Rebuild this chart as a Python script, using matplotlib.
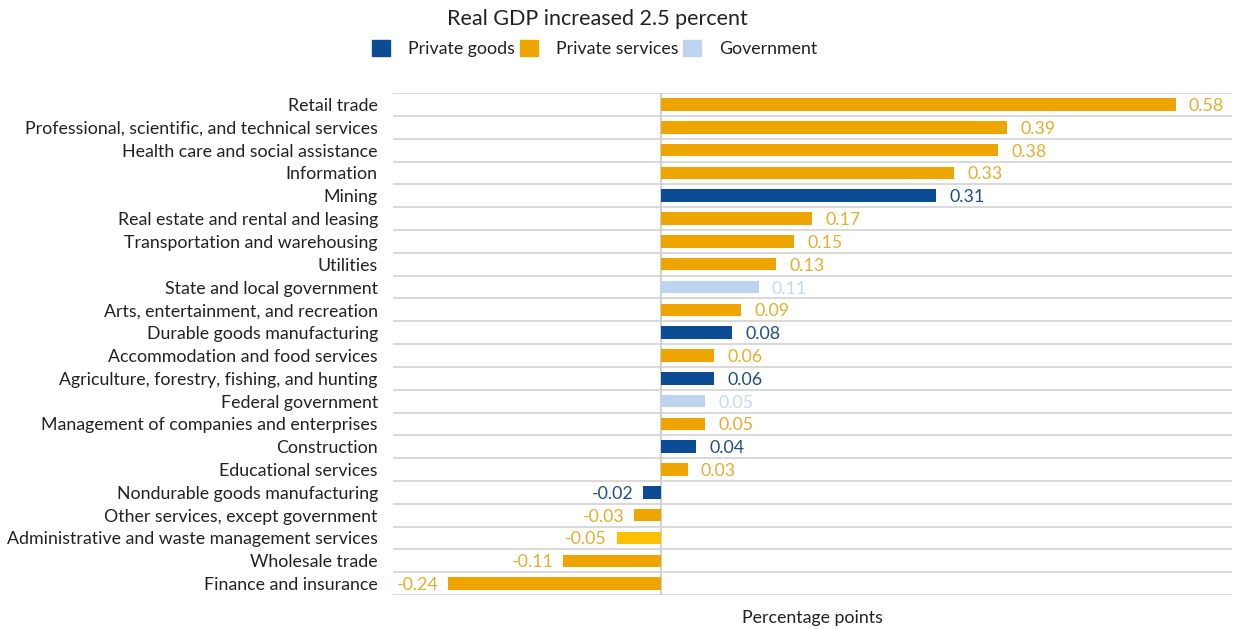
import matplotlib.pyplot as plt
from matplotlib.patches import Patch
import numpy as np

plt.rcParams['font.family'] = ['Lato', 'DejaVu Sans']

industries = [
    'Retail trade',
    'Professional, scientific, and technical services',
    'Health care and social assistance',
    'Information',
    'Mining',
    'Real estate and rental and leasing',
    'Transportation and warehousing',
    'Utilities',
    'State and local government',
    'Arts, entertainment, and recreation',
    'Durable goods manufacturing',
    'Accommodation and food services',
    'Agriculture, forestry, fishing, and hunting',
    'Federal government',
    'Management of companies and enterprises',
    'Construction',
    'Educational services',
    'Nondurable goods manufacturing',
    'Other services, except government',
    'Administrative and waste management services',
    'Wholesale trade',
    'Finance and insurance',
]
contributions = [0.58, 0.39, 0.38, 0.33, 0.31, 0.17, 0.15, 0.13, 0.11, 0.09, 0.08,
                 0.06, 0.06, 0.05, 0.05, 0.04, 0.03, -0.02, -0.03, -0.05, -0.11, -0.24]
sectors = ['svc', 'svc', 'svc', 'svc', 'goods', 'svc', 'svc', 'svc', 'gov', 'svc', 'goods',
           'svc', 'goods', 'gov', 'svc', 'goods', 'svc', 'goods', 'svc', 'admin', 'svc', 'svc']

bar_colors = {'goods': '#0B4C95', 'svc': '#EFA500', 'gov': '#BDD4EE', 'admin': '#FFC000'}
text_colors = {'goods': '#1F4E86', 'svc': '#E6AE2E', 'gov': '#C6D9F0', 'admin': '#E6AE2E'}

fs = 12.8

fig = plt.figure(figsize=(12.34, 6.29), dpi=100)
ax = fig.add_axes([0.3185, 0.054, 0.6795, 0.798])

y = np.arange(len(industries))
ax.barh(y, contributions, height=0.55, color=[bar_colors[s] for s in sectors], zorder=3)

for yi, v, s in zip(y, contributions, sectors):
    if v >= 0:
        ax.text(v + 0.015, yi, f'{v:.2f}', va='center_baseline', ha='left', fontsize=fs,
                color=text_colors[s])
    else:
        ax.text(v - 0.011, yi, f'{v:.2f}', va='center_baseline', ha='right', fontsize=fs,
                color=text_colors[s])

ax.set_xlim(-0.302, 0.643)
ax.set_ylim(len(industries) - 0.5, -0.5)
ax.set_yticks(y)
ax.set_yticklabels(industries, fontsize=fs, color='#222222')
ax.tick_params(axis='y', length=0, pad=11)
ax.set_xticks([])

# separators between rows and the zero line
for b in np.arange(-0.5, len(industries), 1.0):
    ax.axhline(b, color='#D9D9D9', lw=1.4, zorder=1)
ax.axvline(0, color='#D0D0D0', lw=1.4, zorder=2)

for sp in ax.spines.values():
    sp.set_visible(False)

ax.set_xlabel('Percentage points', fontsize=fs, color='#222222', labelpad=11)

fig.text(0.484, 0.97, 'Real GDP increased 2.5 percent', ha='center', va='center',
         fontsize=15.5, color='#222222')

handles = [Patch(color=bar_colors['goods']), Patch(color=bar_colors['svc']),
           Patch(color=bar_colors['gov'])]
fig.legend(handles, ['Private goods', 'Private services', 'Government'],
           loc='center', bbox_to_anchor=(0.482, 0.923), ncol=3, frameon=False,
           fontsize=fs, handlelength=1.0, handleheight=1.0, columnspacing=0.3,
           handletextpad=1.0, labelcolor='#222222')

fig.savefig('out.png', dpi=100)
